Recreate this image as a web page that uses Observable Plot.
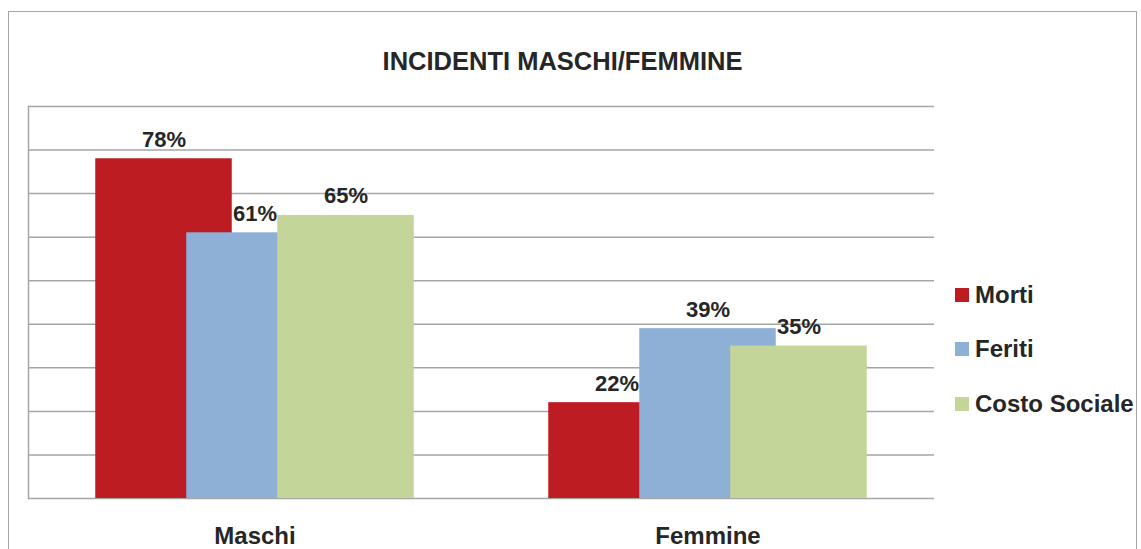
<!DOCTYPE html>
<html>
<head>
<meta charset="utf-8">
<script src="https://cdn.jsdelivr.net/npm/d3@7"></script>
<script src="https://cdn.jsdelivr.net/npm/@observablehq/plot@0.6"></script>
<style>
  html, body { margin: 0; padding: 0; background: #fff; overflow: hidden; }
  #wrap { position: relative; width: 1141px; height: 549px; overflow: hidden; font-family: "Liberation Sans", Arial, sans-serif; color: #262626; }
  #box { position: absolute; left: 8px; top: 11px; width: 1129px; height: 600px; border: 1.5px solid #a6a6a6; box-sizing: border-box; }
  #title { position: absolute; left: 0; width: 1125px; top: 46px; text-align: center; font-weight: bold; font-size: 25.5px; line-height: 30px; }
  #chart { position: absolute; left: 0; top: 0; }
  #legend { position: absolute; left: 955px; top: 0; }
  .item { position: absolute; left: 0; white-space: nowrap; font-weight: bold; font-size: 24px; line-height: 28px; }
  .sw { position: absolute; left: 0; top: 7px; width: 14px; height: 14px; }
  .lab { position: absolute; left: 20px; top: 0; }
</style>
</head>
<body>
<div id="wrap">
  <div id="box"></div>
  <div id="chart"></div>
  <div id="title">INCIDENTI MASCHI/FEMMINE</div>
  <div id="legend"></div>
</div>
<script>
const categories = ["Maschi", "Femmine"];
const series = ["Morti", "Feriti", "Costo Sociale"];
const colors = ["#BD1C23", "#8EB0D7", "#C3D598"];
const maschiValues = [78, 61, 65];
const femmineValues = [22, 39, 35];
const gridValues = [0, 10, 20, 30, 40, 50, 60, 70, 80, 90];

const valuesByCategory = [maschiValues, femmineValues];
const data = categories.flatMap((c, i) =>
  series.map((s, j) => ({category: c, series: s, value: valuesByCategory[i][j]}))
);

const chart = Plot.plot({
  width: 1141,
  height: 549,
  marginLeft: 28,
  marginRight: 207,
  marginTop: 106,
  marginBottom: 51,
  style: {fontFamily: "'Liberation Sans', Arial, sans-serif", background: "transparent", overflow: "visible", color: "#262626"},
  fx: {domain: categories, padding: 0, axis: null, label: null},
  x: {domain: series, paddingInner: 0, paddingOuter: 0.9754, axis: null},
  y: {domain: [0, 90], axis: null},
  color: {domain: series, range: colors},
  marks: [
    Plot.gridY(gridValues, {stroke: "#a6a6a6", strokeOpacity: 1, strokeWidth: 1.5}),
    Plot.frame({anchor: "left", fx: [categories[0]], stroke: "#a6a6a6", strokeWidth: 1.5}),
    Plot.barY(data, {fx: "category", x: "series", y: "value", fill: "series", insetLeft: -22.75, insetRight: -22.75}),
    Plot.text(data, {fx: "category", x: "series", y: "value", text: d => d.value + "%", lineAnchor: "bottom", dy: -12, fontSize: 22, fontWeight: "bold", fill: "#262626"}),
    Plot.text(categories, {fx: d => d, text: d => d, frameAnchor: "bottom", lineAnchor: "bottom", dy: 45, fontSize: 24, fontWeight: "bold", fill: "#262626"})
  ]
});
document.getElementById("chart").appendChild(chart);

const legend = document.getElementById("legend");
const legendTops = [281, 335, 390];
series.forEach((s, i) => {
  const item = document.createElement("div");
  item.className = "item";
  item.style.top = legendTops[i] + "px";
  const sw = document.createElement("div");
  sw.className = "sw";
  sw.style.background = colors[i];
  const lab = document.createElement("div");
  lab.className = "lab";
  lab.textContent = s;
  item.appendChild(sw);
  item.appendChild(lab);
  legend.appendChild(item);
});
</script>
</body>
</html>
